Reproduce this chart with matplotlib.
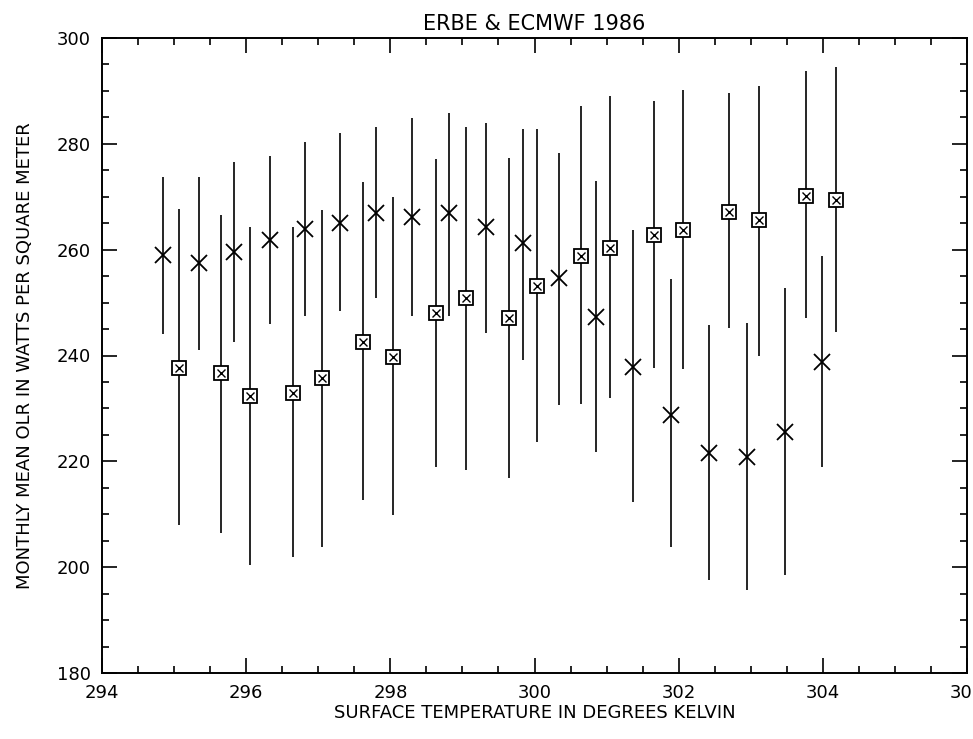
import numpy as np
import matplotlib
matplotlib.use("Agg")
import matplotlib.pyplot as plt
from matplotlib.ticker import MultipleLocator

# ERBE points (x markers) and their spread
erbe_t = [294.85, 295.35, 295.83, 296.33, 296.82, 297.30, 297.80, 298.30, 298.81, 299.33,
          299.84, 300.34, 300.85, 301.37, 301.90, 302.42, 302.95, 303.48, 303.99]
erbe_olr = [259.0, 257.5, 259.6, 261.9, 263.9, 265.1, 267.0, 266.2, 267.0, 264.3,
            261.3, 254.7, 247.3, 237.8, 228.8, 221.6, 220.8, 225.6, 238.8]
erbe_hi = [273.8, 273.8, 276.6, 277.7, 280.4, 282.1, 283.2, 284.9, 285.9, 284.0,
           282.8, 278.3, 273.0, 263.7, 254.5, 245.8, 246.2, 252.8, 258.8]
erbe_lo = [244.1, 241.1, 242.6, 246.0, 247.5, 248.4, 250.9, 247.5, 247.5, 244.3,
           239.2, 230.7, 221.8, 212.3, 203.8, 197.6, 195.7, 198.5, 218.9]

# ECMWF points (boxed x markers)
ecmwf_t = [295.07, 295.65, 296.05, 296.65, 297.05, 297.62, 298.04, 298.63, 299.05, 299.65,
           300.04, 300.65, 301.05, 301.66, 302.06, 302.70, 303.11, 303.77, 304.18]
ecmwf_olr = [237.7, 236.7, 232.4, 232.9, 235.8, 242.6, 239.7, 248.1, 250.9, 247.1,
             253.2, 258.8, 260.3, 262.8, 263.7, 267.1, 265.6, 270.2, 269.4]
ecmwf_hi = [267.7, 266.6, 264.3, 264.3, 267.5, 272.8, 270.0, 277.2, 283.2, 277.4,
            282.8, 287.2, 289.1, 288.1, 290.2, 289.6, 291.0, 293.8, 294.6]
ecmwf_lo = [208.0, 206.5, 200.4, 201.9, 203.8, 212.7, 209.9, 218.9, 218.4, 216.9,
            223.7, 230.9, 232.0, 237.7, 237.5, 245.2, 239.9, 247.1, 244.5]

plt.rcParams['font.family'] = ['DejaVu Sans']

fig = plt.figure(figsize=(9.73, 7.39), dpi=100)
ax = fig.add_axes([102 / 973, 1 - 673 / 739, 865 / 973, 635 / 739])

ax.vlines(erbe_t, erbe_lo, erbe_hi, color='black', lw=1.2)
ax.vlines(ecmwf_t, ecmwf_lo, ecmwf_hi, color='black', lw=1.2)

ax.plot(erbe_t, erbe_olr, ls='none', marker='x', ms=11, mew=1.3, color='black')
ax.plot(ecmwf_t, ecmwf_olr, ls='none', marker='s', ms=10, mew=1.3,
        mfc='white', mec='black')
ax.plot(ecmwf_t, ecmwf_olr, ls='none', marker='x', ms=6, mew=1.0, color='black')

ax.set_xlim(294, 306)
ax.set_ylim(180, 300)
ax.xaxis.set_major_locator(MultipleLocator(2))
ax.xaxis.set_minor_locator(MultipleLocator(0.5))
ax.yaxis.set_major_locator(MultipleLocator(20))
ax.yaxis.set_minor_locator(MultipleLocator(5))
ax.tick_params(which='both', direction='in', top=True, right=True,
               labelsize=13, width=1.2, pad=8)
ax.tick_params(which='major', length=11)
ax.tick_params(which='minor', length=5)
for s in ax.spines.values():
    s.set_linewidth(1.4)

ax.set_title("ERBE & ECMWF 1986", fontsize=15, pad=6)
ax.set_xlabel("SURFACE TEMPERATURE IN DEGREES KELVIN", fontsize=13, labelpad=1)
ax.set_ylabel("MONTHLY MEAN OLR IN WATTS PER SQUARE METER", fontsize=13, labelpad=16)

fig.savefig("out.png", dpi=100)
